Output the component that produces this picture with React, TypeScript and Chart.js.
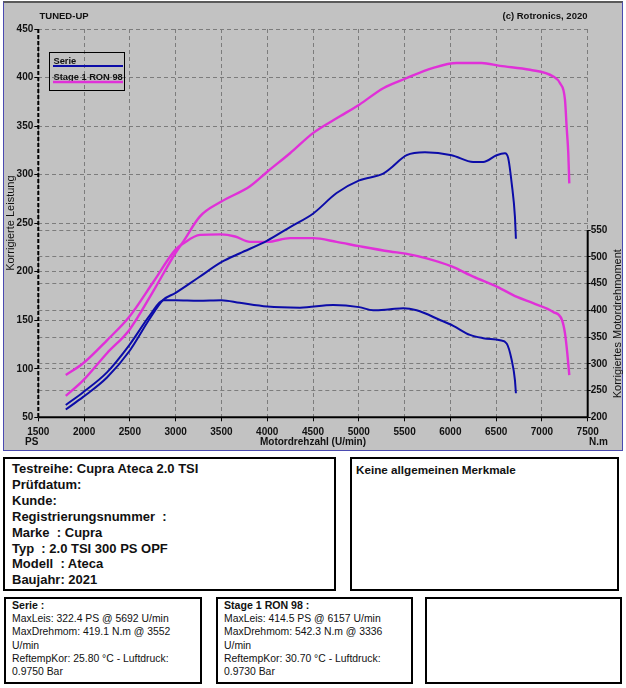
import React, { useEffect, useRef } from "react";
import { Chart, registerables } from "chart.js";

Chart.register(...registerables);

// ---------- data ----------
const rpmTicks = [1500, 2000, 2500, 3000, 3500, 4000, 4500, 5000, 5500, 6000, 6500, 7000, 7500];
const powerTicks = [50, 100, 150, 200, 250, 300, 350, 400, 450];
const torqueTicks = [200, 250, 300, 350, 400, 450, 500, 550];

const serieRpmP = [1800, 1990, 2250, 2494, 2720, 2865, 2996, 3250, 3503, 3703, 4001, 4250, 4503, 4758, 5005, 5267, 5341, 5523, 5723, 6014, 6250, 6359, 6505, 6596, 6632, 6670, 6705, 6716];
const seriePower = [58, 71, 91, 118, 152, 171, 178, 194, 210, 219, 232, 246, 260, 281, 294, 301, 306, 320, 323, 320, 313, 313, 320, 322, 317, 291, 257, 234];

const serieRpmT = [1800, 1990, 2250, 2494, 2720, 2865, 3000, 3250, 3500, 3700, 4000, 4358, 4721, 5005, 5158, 5341, 5486, 5632, 5887, 6032, 6214, 6359, 6542, 6615, 6670, 6705, 6716];
const serieTorque = [223, 247, 284, 335, 391, 419, 419, 418, 419, 414, 407, 405, 410, 406, 400, 402, 404, 400, 382, 371, 354, 348, 344, 338, 307, 270, 245];

const stageRpmP = [1800, 1990, 2250, 2494, 2756, 2996, 3083, 3266, 3495, 3812, 4001, 4249, 4503, 4758, 5005, 5267, 5512, 5813, 6069, 6342, 6542, 6869, 7124, 7198, 7252, 7270, 7288, 7299];
const stagePower = [72, 88, 116, 140, 180, 219, 231, 257, 272, 288, 303, 322, 343, 358, 372, 389, 399, 410, 415, 415, 412, 408, 401, 394, 377, 349, 322, 291];

const stageRpmT = [1800, 1990, 2250, 2494, 2756, 2996, 3083, 3266, 3495, 3650, 3812, 4001, 4249, 4503, 4758, 5005, 5341, 5512, 5741, 6014, 6250, 6512, 6728, 6910, 7124, 7219, 7252, 7277, 7299];
const stageTorque = [279, 301, 344, 388, 453, 513, 525, 541, 542, 538, 528, 528, 535, 535, 528, 520, 510, 506, 497, 482, 463, 444, 425, 413, 397, 382, 357, 320, 279];

const seriesNames = ["Serie", "Stage 1 RON 98"];
const seriesColors = ["#0c0ca8", "#e030d8"];

const infoLines = [
  "Testreihe: Cupra Ateca 2.0 TSI",
  "Prüfdatum:",
  "Kunde:",
  "Registrierungsnummer  :",
  "Marke  : Cupra",
  "Typ  : 2.0 TSI 300 PS OPF",
  "Modell  : Ateca",
  "Baujahr: 2021",
];
const serieLines = ["MaxLeis: 322.4 PS @ 5692 U/min", "MaxDrehmom: 419.1 N.m @ 3552", "U/min", "ReftempKor: 25.80 °C - Luftdruck:", "0.9750 Bar"];
const stageLines = ["MaxLeis: 414.5 PS @ 6157 U/min", "MaxDrehmom: 542.3 N.m @ 3336", "U/min", "ReftempKor: 30.70 °C - Luftdruck:", "0.9730 Bar"];

const FONT = "'Liberation Sans', Arial, sans-serif";

const toPts = (xs: number[], ys: number[]) => xs.map((x, i) => ({ x, y: ys[i] }));

const decorPlugin = {
  id: "decor",
  afterDraw(chart: any) {
    const { ctx, scales } = chart;
    const sx = scales.x, sy = scales.y, sy2 = scales.y2;
    const L = sx.getPixelForValue(1500), R = sx.getPixelForValue(7500);
    const T = sy.getPixelForValue(450), B = sy.getPixelForValue(50);
    ctx.save();
    // axes
    ctx.strokeStyle = "#000";
    ctx.lineWidth = 2;
    ctx.setLineDash([4, 2]);
    ctx.beginPath(); ctx.moveTo(L, T); ctx.lineTo(L, B); ctx.stroke();
    ctx.setLineDash([]);
    ctx.beginPath(); ctx.moveTo(L, B); ctx.lineTo(R, B); ctx.stroke();
    ctx.beginPath(); ctx.moveTo(R, sy2.getPixelForValue(550)); ctx.lineTo(R, B); ctx.stroke();

    // header texts
    ctx.fillStyle = "#111";
    ctx.textBaseline = "middle";
    ctx.font = `bold 9.5px ${FONT}`;
    ctx.textAlign = "left";
    ctx.fillText("TUNED-UP", 39.5, 16);
    ctx.textAlign = "right";
    ctx.fillText("(c) Rotronics, 2020", 587.5, 16);

    // bottom labels
    ctx.font = `bold 10px ${FONT}`;
    ctx.textAlign = "left";
    ctx.fillText("PS", 25, 442);
    ctx.textAlign = "center";
    ctx.fillText("Motordrehzahl (U/min)", (L + R) / 2, 442);
    ctx.textAlign = "left";
    ctx.fillText("N.m", 589, 442);

    // axis titles
    ctx.font = `11px ${FONT}`;
    ctx.textAlign = "center";
    ctx.save();
    ctx.translate(11, (T + B) / 2);
    ctx.rotate(-Math.PI / 2);
    ctx.fillText("Korrigierte Leistung", 0, 0);
    ctx.restore();
    ctx.save();
    ctx.translate(617.5, (sy2.getPixelForValue(550) + B) / 2);
    ctx.rotate(-Math.PI / 2);
    ctx.fillText("Korrigiertes Motordrehmoment", 0, 0);
    ctx.restore();

    // legend box
    ctx.lineWidth = 1;
    ctx.strokeStyle = "#000";
    ctx.strokeRect(49.5, 52.5, 75, 38);
    ctx.font = `bold 9.3px ${FONT}`;
    ctx.textAlign = "left";
    ctx.fillStyle = "#111";
    ctx.fillText(seriesNames[0], 53.5, 61);
    ctx.fillText(seriesNames[1], 53.5, 77);
    ctx.strokeStyle = seriesColors[0];
    ctx.lineWidth = 2;
    ctx.beginPath(); ctx.moveTo(53, 66); ctx.lineTo(123, 66); ctx.stroke();
    ctx.strokeStyle = seriesColors[1];
    ctx.lineWidth = 2.5;
    ctx.beginPath(); ctx.moveTo(53, 82); ctx.lineTo(123, 82); ctx.stroke();
    ctx.restore();
  },
};

const gridCommon = {
  color: "#7c7c7c",
  lineWidth: 1,
  tickColor: "#000",
  tickWidth: 1,
  tickBorderDash: [],
};

export default function App() {
  const ref = useRef<HTMLCanvasElement>(null);
  useEffect(() => {
    const tickFont = { family: FONT, size: 10, weight: "bold" as const };
    const lineDs = (label: string, data: any[], color: string, axis: string, w: number) => ({
      label,
      data,
      borderColor: color,
      backgroundColor: color,
      borderWidth: w,
      pointRadius: 0,
      yAxisID: axis,
      cubicInterpolationMode: "monotone" as const,
      fill: false,
    });
    const chart = new Chart(ref.current!, {
      type: "line",
      data: {
        datasets: [
          lineDs(seriesNames[0] + " P", toPts(serieRpmP, seriePower), seriesColors[0], "y", 2),
          lineDs(seriesNames[0] + " T", toPts(serieRpmT, serieTorque), seriesColors[0], "y2", 2),
          lineDs(seriesNames[1] + " P", toPts(stageRpmP, stagePower), seriesColors[1], "y", 2.4),
          lineDs(seriesNames[1] + " T", toPts(stageRpmT, stageTorque), seriesColors[1], "y2", 2.4),
        ],
      },
      options: {
        responsive: false,
        animation: false,
        devicePixelRatio: 1,
        layout: { padding: { top: 29, left: 0, right: 0, bottom: 0 } },
        plugins: { legend: { display: false }, tooltip: { enabled: false }, title: { display: false } },
        scales: {
          x: {
            type: "linear",
            min: 1500,
            max: 7500,
            afterBuildTicks: (s: any) => { s.ticks = rpmTicks.map((v) => ({ value: v })); },
            afterFit: (s: any) => { s.height = 34.7; },
            ticks: { font: tickFont, color: "#111", maxRotation: 0, autoSkip: false, padding: 5, callback: (v: any) => String(v) },
            grid: { ...gridCommon, tickLength: 4 },
            border: { display: false, dash: [4, 3] },
          },
          y: {
            type: "linear",
            position: "left",
            min: 50,
            max: 450,
            afterBuildTicks: (s: any) => { s.ticks = powerTicks.map((v) => ({ value: v })); },
            afterFit: (s: any) => { s.width = 38.3; },
            ticks: { font: tickFont, color: "#111", padding: 1, callback: (v: any) => String(v) },
            grid: { ...gridCommon, tickLength: 4 },
            border: { display: false, dash: [4, 3] },
          },
          y2: {
            type: "linear",
            position: "right",
            min: 200,
            max: 926,
            afterBuildTicks: (s: any) => { s.ticks = torqueTicks.map((v) => ({ value: v })); },
            afterFit: (s: any) => { s.width = 38.3; },
            ticks: { font: tickFont, color: "#111", padding: 0, callback: (v: any) => String(v) },
            grid: { ...gridCommon, tickLength: 3 },
            border: { display: false, dash: [4, 3] },
          },
        },
      },
      plugins: [decorPlugin],
    } as any);
    return () => chart.destroy();
  }, []);

  const box: React.CSSProperties = {
    position: "absolute",
    boxSizing: "border-box",
    border: "2px solid #000",
    background: "#fff",
    color: "#111",
    fontFamily: FONT,
    whiteSpace: "pre",
    overflow: "hidden",
  };

  return (
    <div style={{ position: "absolute", left: 0, top: 0, width: 626, height: 688, background: "#fff", overflow: "hidden" }}>
      <div
        style={{
          position: "absolute",
          left: 3,
          top: 1,
          width: 620,
          height: 450,
          boxSizing: "border-box",
          background: "#c2c2c2",
          borderLeft: "1px solid #4a4ab0",
          borderRight: "1px solid #4a4ab0",
          borderBottom: "1px solid #4a4ab0",
          borderTop: "2px solid #5a5a5a",
        }}
      />
      <canvas ref={ref} width={626} height={452} style={{ position: "absolute", left: 0, top: 0, width: 626, height: 452 }} />

      <div style={{ ...box, left: 3, top: 457, width: 333, height: 134, padding: "2px 0 0 7px", fontSize: 13, fontWeight: "bold", lineHeight: "15.9px" }}>
        {infoLines.map((t, i) => (
          <div key={i}>{t}</div>
        ))}
      </div>
      <div style={{ ...box, left: 350, top: 457, width: 269, height: 134, padding: "3px 0 0 4px", fontSize: 11.7, fontWeight: "bold", lineHeight: "16px" }}>
        Keine allgemeinen Merkmale
      </div>

      <div style={{ ...box, left: 4, top: 597, width: 198, height: 87, padding: "0 0 0 6px", fontSize: 10.4, lineHeight: "13.2px" }}>
        <div style={{ fontWeight: "bold", fontSize: 10.6 }}>Serie :</div>
        {serieLines.map((t, i) => (
          <div key={i}>{t}</div>
        ))}
      </div>
      <div style={{ ...box, left: 216, top: 597, width: 197, height: 87, padding: "0 0 0 6px", fontSize: 10.4, lineHeight: "13.2px" }}>
        <div style={{ fontWeight: "bold", fontSize: 10.6 }}>Stage 1 RON 98 :</div>
        {stageLines.map((t, i) => (
          <div key={i}>{t}</div>
        ))}
      </div>
      <div style={{ ...box, left: 425, top: 597, width: 197, height: 87 }} />
    </div>
  );
}
